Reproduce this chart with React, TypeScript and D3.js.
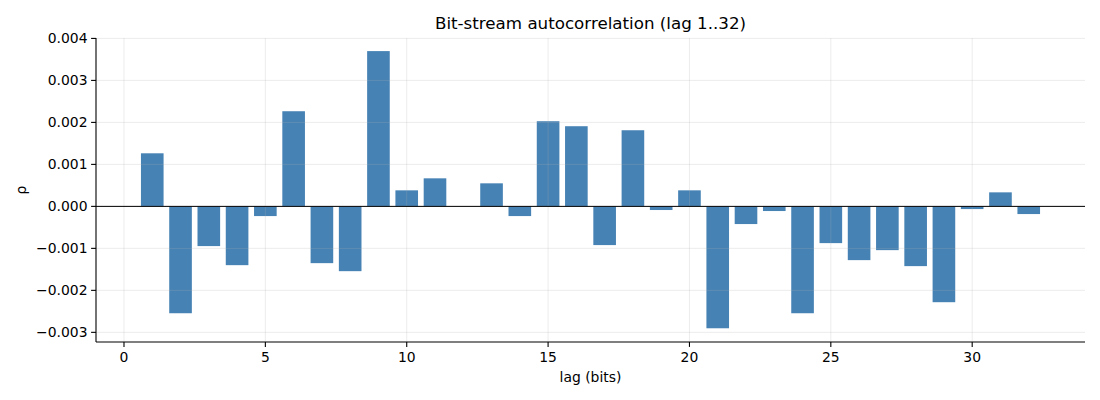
import React from "react";
import * as d3 from "d3";

const lags: number[] = Array.from({ length: 32 }, (_, i) => i + 1);
const rho: number[] = [
  0.001264, -0.002545, -0.000946, -0.0014, -0.000231, 0.002266, -0.001352, -0.001543,
  0.003698, 0.000382, 0.000668, 0.0, 0.000549, -0.000231, 0.002028, 0.001909,
  -0.000922, 0.001813, -0.000087, 0.000382, -0.002903, -0.000421, -0.000111, -0.002545,
  -0.000875, -0.00128, -0.001042, -0.001423, -0.002282, -0.000064, 0.000334, -0.000183,
];
const xTicks: number[] = [0, 5, 10, 15, 20, 25, 30];
const yTicks: number[] = [-0.003, -0.002, -0.001, 0, 0.001, 0.002, 0.003, 0.004];

const W = 1100;
const H = 400;
const L = 96, R = 1085, T = 38, B = 342;
const font = "DejaVu Sans, sans-serif";

export default function App() {
  const x = d3.scaleLinear().domain([-0.99, 33.99]).range([L, R]);
  const y = d3.scaleLinear().domain([-0.00323, 0.00401]).range([B, T]);
  const fmt = (v: number) => {
    const s = d3.format(".3f")(Math.abs(v));
    return (v < -1e-12 ? "\u2212" : "") + s;
  };
  const bw = 0.8;
  return (
    <svg width={W} height={H} style={{ position: "absolute", left: 0, top: 0, background: "#fff" }}>
      <rect x={0} y={0} width={W} height={H} fill="#fff" />
      {lags.map((lag, i) => {
        const v = rho[i];
        const y0 = y(0);
        const y1 = y(v);
        return (
          <rect
            key={lag}
            x={x(lag - bw / 2)}
            width={x(lag + bw / 2) - x(lag - bw / 2)}
            y={Math.min(y0, y1)}
            height={Math.abs(y1 - y0)}
            fill="#4682b4"
          />
        );
      })}
      {xTicks.map((t) => (
        <line key={"gx" + t} x1={x(t)} x2={x(t)} y1={T} y2={B} stroke="#b0b0b0" strokeOpacity={0.3} strokeWidth={0.8} />
      ))}
      {yTicks.map((t) => (
        <line key={"gy" + t} x1={L} x2={R} y1={y(t)} y2={y(t)} stroke="#b0b0b0" strokeOpacity={0.3} strokeWidth={0.8} />
      ))}
      <line x1={L} x2={R} y1={y(0)} y2={y(0)} stroke="#000" strokeWidth={1} />
      <line x1={L} x2={L} y1={T} y2={B} stroke="#000" strokeWidth={1.1} />
      <line x1={L} x2={R} y1={B} y2={B} stroke="#000" strokeWidth={1.1} />
      {xTicks.map((t) => (
        <g key={"xt" + t}>
          <line x1={x(t)} x2={x(t)} y1={B} y2={B + 4.9} stroke="#000" strokeWidth={1.1} />
          <text x={x(t)} y={B + 20} textAnchor="middle" fontFamily={font} fontSize={13.9} fill="#000">
            {t}
          </text>
        </g>
      ))}
      {yTicks.map((t) => (
        <g key={"yt" + t}>
          <line x1={L - 4.9} x2={L} y1={y(t)} y2={y(t)} stroke="#000" strokeWidth={1.1} />
          <text x={L - 8.5} y={y(t)} dy="0.35em" textAnchor="end" fontFamily={font} fontSize={13.9} fill="#000">
            {fmt(t)}
          </text>
        </g>
      ))}
      <text x={(L + R) / 2} y={29} textAnchor="middle" fontFamily={font} fontSize={16.7} fill="#000">
        Bit-stream autocorrelation (lag 1..32)
      </text>
      <text x={(L + R) / 2} y={382} textAnchor="middle" fontFamily={font} fontSize={13.9} fill="#000">
        lag (bits)
      </text>
      <text
        transform={`translate(25.5, ${(T + B) / 2}) rotate(-90)`}
        textAnchor="middle"
        fontFamily={font}
        fontSize={13.9}
        fill="#000"
      >
        ρ
      </text>
    </svg>
  );
}
